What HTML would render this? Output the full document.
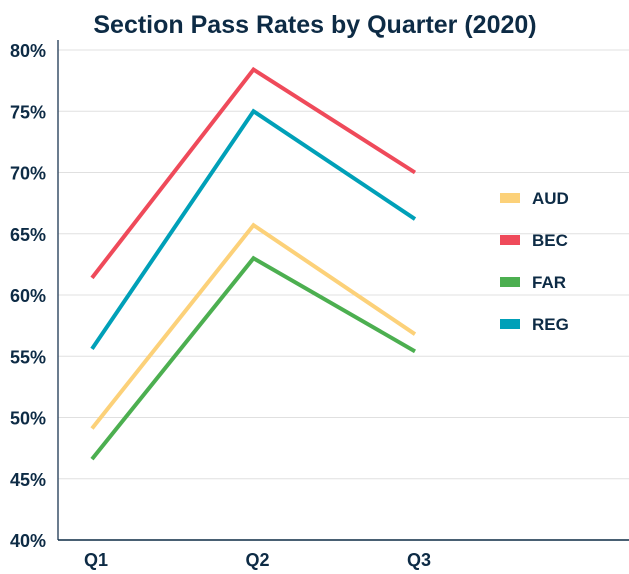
<!DOCTYPE html>
<html><head><meta charset="utf-8"><style>
body{margin:0;background:#fff;}
svg{display:block;font-family:"Liberation Sans",sans-serif;}
</style></head><body>
<svg id="chart" width="629" height="574">
<text x="315" y="33" text-anchor="middle" font-size="25" font-weight="bold" fill="#0d2b45">Section Pass Rates by Quarter (2020)</text>
<g id="grid"></g><g id="lines"></g><g id="legend"></g>
</svg>
<script>
const categories = ["Q1","Q2","Q3"];
const ticks = [40,45,50,55,60,65,70,75,80];
const seriesNames = ["AUD","BEC","FAR","REG"];
const colors = ["#fcd179","#ef4a5a","#4caf50","#00a0b8"];
const aud = [49.1,65.7,56.8];
const bec = [61.4,78.4,70.0];
const far = [46.6,63.0,55.4];
const reg = [55.6,75.0,66.2];
const seriesValues = [aud,bec,far,reg];
const NS="http://www.w3.org/2000/svg";
const y = v => 540 - (v-40)*(490/40);
const x = i => 92 + i*161.5;
const grid=document.getElementById('grid');
function mk(tag,attrs,parent){const e=document.createElementNS(NS,tag);for(const k in attrs)e.setAttribute(k,attrs[k]);parent.appendChild(e);return e;}
ticks.forEach(t=>{
  if(t>40){const l=mk('line',{x1:58,x2:629,y1:y(t),y2:y(t),stroke:'#e0e0e0','stroke-width':1},grid);
  
  }
  const tx=mk('text',{x:46,y:y(t)+7,'text-anchor':'end','font-size':18,'font-weight':'bold',fill:'#0d2b45'},grid);
  tx.textContent=t+'%';
  
  
});
const ax=mk('line',{x1:58,x2:58,y1:40,y2:540,stroke:'#3a5068','stroke-width':1.5},grid);


const bx=mk('line',{x1:58,x2:629,y1:540,y2:540,stroke:'#0d2b45','stroke-width':1.5},grid);


categories.forEach((c,i)=>{
  const tx=mk('text',{x:x(i)+4,y:566,'text-anchor':'middle','font-size':18,'font-weight':'bold',fill:'#0d2b45'},grid);
  tx.textContent=c;
  
  
});
const lines=document.getElementById('lines');
seriesValues.forEach((vals,s)=>{
  const p=mk('polyline',{points:vals.map((v,i)=>x(i)+','+y(v)).join(' '),fill:'none',stroke:colors[s],'stroke-width':4},lines);
  
  
});
const lg=document.getElementById('legend');
seriesNames.forEach((n,s)=>{
  const yy=198+s*42;
  const r=mk('rect',{x:500,y:yy-5,width:20,height:10,fill:colors[s]},lg);
  
  
  const t=mk('text',{x:532,y:yy+6,'font-size':17,'font-weight':'bold',fill:'#0d2b45'},lg);
  t.textContent=n;
  
  
});
</script>
</body></html>
